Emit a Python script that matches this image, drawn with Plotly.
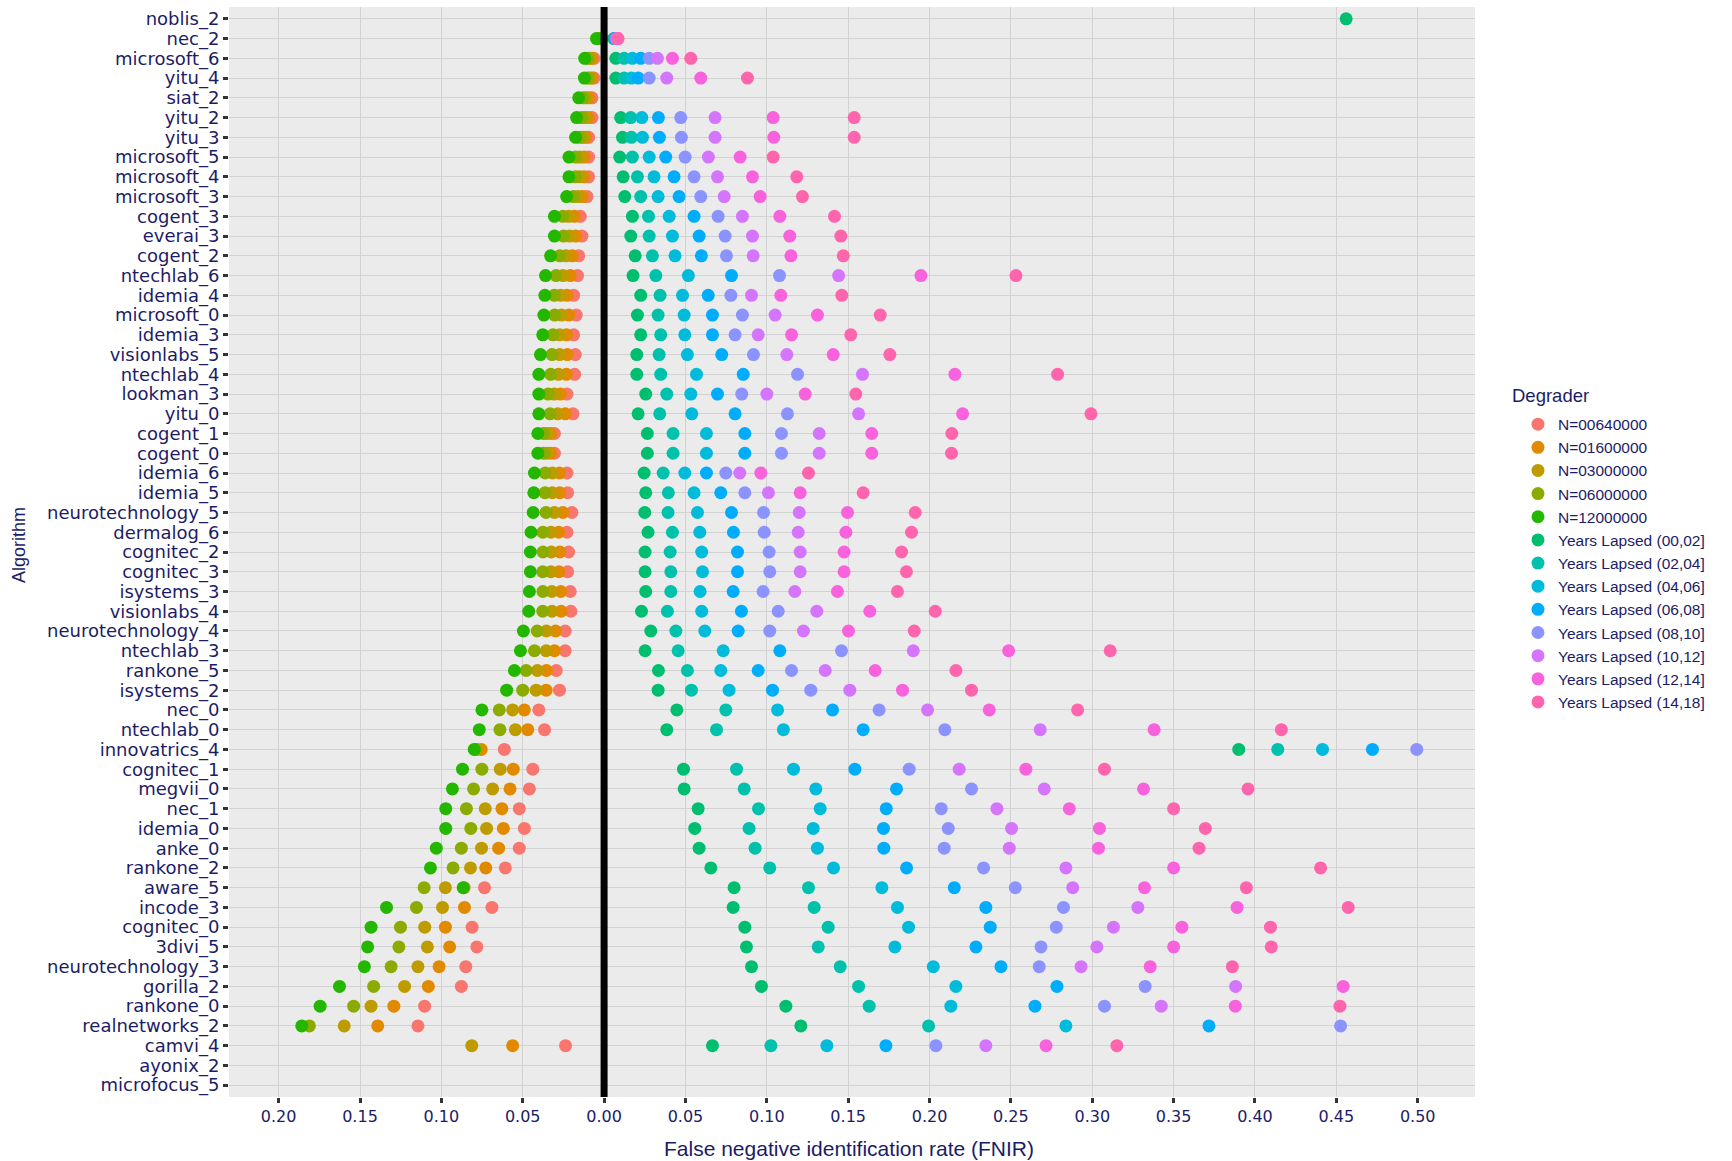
import plotly.graph_objects as go

algorithms = ["noblis_2", "nec_2", "microsoft_6", "yitu_4", "siat_2", "yitu_2", "yitu_3",
              "microsoft_5", "microsoft_4", "microsoft_3", "cogent_3", "everai_3", "cogent_2",
              "ntechlab_6", "idemia_4", "microsoft_0", "idemia_3", "visionlabs_5", "ntechlab_4",
              "lookman_3", "yitu_0", "cogent_1", "cogent_0", "idemia_6", "idemia_5",
              "neurotechnology_5", "dermalog_6", "cognitec_2", "cognitec_3", "isystems_3",
              "visionlabs_4", "neurotechnology_4", "ntechlab_3", "rankone_5", "isystems_2",
              "nec_0", "ntechlab_0", "innovatrics_4", "cognitec_1", "megvii_0", "nec_1",
              "idemia_0", "anke_0", "rankone_2", "aware_5", "incode_3", "cognitec_0", "3divi_5",
              "neurotechnology_3", "gorilla_2", "rankone_0", "realnetworks_2", "camvi_4",
              "ayonix_2", "microfocus_5"]

# FNIR by gallery size (plotted to the left of zero)
n_00640000 = [None, 0.0012, 0.0062, 0.0062, 0.0074, 0.0074, 0.0095, 0.0095, 0.0095, 0.0105,
              0.0146, 0.0136, 0.0156, 0.0163, 0.0187, 0.0171, 0.0187, 0.0177, 0.0181, 0.0228,
              0.0191, 0.0305, 0.0305, 0.0228, 0.0224, 0.0198, 0.0228, 0.0218, 0.0224, 0.0208,
              0.0204, 0.0239, 0.0239, 0.0294, 0.0274, 0.0401, 0.0366, 0.0613, 0.0438, 0.0459,
              0.0521, 0.0490, 0.0521, 0.0607, 0.0735, 0.0689, 0.0811, 0.0782, 0.0850, 0.0877,
              0.1103, 0.1144, 0.0237, None, None]
n_01600000 = [None, 0.0020, 0.0075, 0.0075, 0.0093, 0.0096, 0.0113, 0.0123, 0.0123, 0.0134,
              0.0183, 0.0175, 0.0196, 0.0208, 0.0228, 0.0217, 0.0231, 0.0226, 0.0232, 0.0268,
              0.0239, 0.0328, 0.0328, 0.0274, 0.0272, 0.0253, 0.0279, 0.0272, 0.0277, 0.0266,
              0.0264, 0.0298, 0.0305, 0.0354, 0.0356, 0.0490, 0.0469, 0.0755, 0.0558, 0.0578,
              0.0628, 0.0619, 0.0648, 0.0727, 0.0860, 0.0858, 0.0975, 0.0949, 0.1014, 0.1080,
              0.1292, 0.1391, 0.0562, None, None]
n_03000000 = [None, 0.0028, 0.0088, 0.0088, 0.0111, 0.0117, 0.0131, 0.0150, 0.0150, 0.0161,
              0.0218, 0.0212, 0.0234, 0.0252, 0.0267, 0.0261, 0.0273, 0.0273, 0.0280, 0.0306,
              0.0285, 0.0351, 0.0351, 0.0318, 0.0318, 0.0305, 0.0327, 0.0324, 0.0327, 0.0321,
              0.0320, 0.0355, 0.0356, 0.0410, 0.0418, 0.0562, 0.0545, 0.0785, 0.0638, 0.0685,
              0.0730, 0.0722, 0.0753, 0.0821, 0.0975, 0.0993, 0.1102, 0.1086, 0.1144, 0.1226,
              0.1432, 0.1597, 0.0813, None, None]
n_06000000 = [None, 0.0036, 0.0100, 0.0101, 0.0129, 0.0138, 0.0149, 0.0176, 0.0176, 0.0189,
              0.0253, 0.0249, 0.0272, 0.0295, 0.0306, 0.0304, 0.0314, 0.0320, 0.0328, 0.0344,
              0.0332, 0.0373, 0.0373, 0.0362, 0.0363, 0.0357, 0.0376, 0.0375, 0.0377, 0.0376,
              0.0377, 0.0411, 0.0428, 0.0479, 0.0500, 0.0644, 0.0640, 0.0790, 0.0751, 0.0802,
              0.0846, 0.0819, 0.0877, 0.0928, 0.1106, 0.1153, 0.1251, 0.1261, 0.1309, 0.1416,
              0.1539, 0.1811, None, None, None]
n_12000000 = [None, 0.0047, 0.0119, 0.0121, 0.0156, 0.0169, 0.0175, 0.0216, 0.0216, 0.0230,
              0.0305, 0.0305, 0.0329, 0.0360, 0.0364, 0.0370, 0.0377, 0.0391, 0.0401, 0.0401,
              0.0401, 0.0407, 0.0407, 0.0428, 0.0432, 0.0436, 0.0449, 0.0453, 0.0453, 0.0459,
              0.0463, 0.0496, 0.0514, 0.0551, 0.0599, 0.0751, 0.0767, 0.0798, 0.0870, 0.0932,
              0.0973, 0.0973, 0.1031, 0.1067, 0.0866, 0.1337, 0.1432, 0.1453, 0.1473, 0.1626,
              0.1745, 0.1858, None, None, None]

# FNIR by years lapsed (plotted to the right of zero)
yrs_00_02 = [0.4560, 0.0060, 0.0072, 0.0072, None, 0.0102, 0.0113, 0.0096, 0.0117, 0.0127,
             0.0174, 0.0164, 0.0191, 0.0178, 0.0225, 0.0205, 0.0225, 0.0201, 0.0201, 0.0256,
             0.0209, 0.0266, 0.0266, 0.0246, 0.0256, 0.0250, 0.0270, 0.0252, 0.0252, 0.0256,
             0.0230, 0.0287, 0.0252, 0.0334, 0.0332, 0.0447, 0.0385, 0.3900, 0.0488, 0.0492,
             0.0578, 0.0557, 0.0584, 0.0656, 0.0799, 0.0793, 0.0865, 0.0875, 0.0906, 0.0967,
             0.1117, 0.1209, 0.0666, None, None]
yrs_02_04 = [None, 0.0065, 0.0123, 0.0123, None, 0.0164, 0.0168, 0.0174, 0.0205, 0.0225,
             0.0273, 0.0277, 0.0297, 0.0318, 0.0344, 0.0332, 0.0348, 0.0338, 0.0348, 0.0385,
             0.0342, 0.0424, 0.0424, 0.0363, 0.0395, 0.0393, 0.0420, 0.0406, 0.0410, 0.0410,
             0.0389, 0.0441, 0.0455, 0.0512, 0.0537, 0.0748, 0.0691, 0.4140, 0.0814, 0.0861,
             0.0949, 0.0891, 0.0928, 0.1018, 0.1256, 0.1291, 0.1377, 0.1316, 0.1451, 0.1564,
             0.1629, 0.1994, 0.1025, None, None]
yrs_04_06 = [None, 0.0070, 0.0174, 0.0168, None, 0.0232, 0.0236, 0.0277, 0.0307, 0.0332,
             0.0400, 0.0420, 0.0436, 0.0518, 0.0482, 0.0492, 0.0496, 0.0512, 0.0568, 0.0533,
             0.0539, 0.0629, 0.0629, 0.0496, 0.0553, 0.0574, 0.0588, 0.0600, 0.0605, 0.0590,
             0.0600, 0.0619, 0.0732, 0.0717, 0.0768, 0.1066, 0.1102, 0.4415, 0.1164, 0.1301,
             0.1328, 0.1285, 0.1311, 0.1410, 0.1707, 0.1803, 0.1871, 0.1787, 0.2023, 0.2162,
             0.2131, 0.2838, 0.1369, None, None]
yrs_06_08 = [None, 0.0072, 0.0225, 0.0210, None, 0.0334, 0.0340, 0.0379, 0.0430, 0.0461,
             0.0553, 0.0584, 0.0598, 0.0783, 0.0640, 0.0666, 0.0666, 0.0723, 0.0855, 0.0697,
             0.0805, 0.0865, 0.0865, 0.0629, 0.0717, 0.0783, 0.0795, 0.0820, 0.0820, 0.0793,
             0.0844, 0.0824, 0.1080, 0.0947, 0.1035, 0.1404, 0.1592, 0.4722, 0.1541, 0.1797,
             0.1734, 0.1717, 0.1719, 0.1859, 0.2152, 0.2346, 0.2373, 0.2285, 0.2439, 0.2783,
             0.2648, 0.3717, 0.1732, None, None]
yrs_08_10 = [None, 0.0075, 0.0277, 0.0277, None, 0.0471, 0.0475, 0.0498, 0.0553, 0.0594,
             0.0701, 0.0744, 0.0752, 0.1078, 0.0779, 0.0850, 0.0805, 0.0918, 0.1189, 0.0846,
             0.1127, 0.1090, 0.1090, 0.0748, 0.0865, 0.0980, 0.0984, 0.1014, 0.1018, 0.0977,
             0.1070, 0.1018, 0.1459, 0.1152, 0.1270, 0.1690, 0.2094, 0.4994, 0.1875, 0.2258,
             0.2072, 0.2115, 0.2090, 0.2332, 0.2527, 0.2823, 0.2779, 0.2685, 0.2674, 0.3325,
             0.3075, 0.4526, 0.2039, None, None]
yrs_10_12 = [None, 0.0080, 0.0328, 0.0385, None, 0.0682, 0.0682, 0.0641, 0.0697, 0.0738,
             0.0850, 0.0912, 0.0916, 0.1441, 0.0906, 0.1051, 0.0947, 0.1123, 0.1588, 0.1000,
             0.1564, 0.1322, 0.1322, 0.0834, 0.1010, 0.1199, 0.1193, 0.1205, 0.1205, 0.1172,
             0.1307, 0.1225, 0.1900, 0.1359, 0.1510, 0.1988, 0.2680, None, 0.2182, 0.2705,
             0.2414, 0.2504, 0.2490, 0.2838, 0.2880, 0.3280, 0.3130, 0.3028, 0.2931, 0.3881,
             0.3424, None, 0.2346, None, None]
yrs_12_14 = [None, 0.0082, 0.0420, 0.0594, None, 0.1039, 0.1043, 0.0836, 0.0912, 0.0959,
             0.1080, 0.1141, 0.1148, 0.1947, 0.1086, 0.1311, 0.1152, 0.1408, 0.2156, 0.1236,
             0.2203, 0.1645, 0.1645, 0.0963, 0.1205, 0.1496, 0.1486, 0.1475, 0.1475, 0.1434,
             0.1633, 0.1502, 0.2486, 0.1666, 0.1834, 0.2367, 0.3380, None, 0.2592, 0.3315,
             0.2859, 0.3044, 0.3038, 0.3500, 0.3321, 0.3890, 0.3551, 0.3500, 0.3356, 0.4542,
             0.3879, None, 0.2716, None, None]
yrs_14_18 = [None, 0.0086, 0.0533, 0.0881, None, 0.1537, 0.1537, 0.1039, 0.1184, 0.1219,
             0.1416, 0.1455, 0.1470, 0.2531, 0.1461, 0.1697, 0.1516, 0.1756, 0.2787, 0.1547,
             0.2992, 0.2137, 0.2135, 0.1256, 0.1592, 0.1912, 0.1889, 0.1828, 0.1858, 0.1803,
             0.2035, 0.1906, 0.3110, 0.2162, 0.2258, 0.2910, 0.4162, None, 0.3075, 0.3957,
             0.3500, 0.3695, 0.3656, 0.4403, 0.3947, 0.4573, 0.4095, 0.4100, 0.3861, None,
             0.4522, None, 0.3151, None, None]

series = [
    ("N=00640000", n_00640000, -1, "#F8766D"),
    ("N=01600000", n_01600000, -1, "#E18A00"),
    ("N=03000000", n_03000000, -1, "#BE9C00"),
    ("N=06000000", n_06000000, -1, "#8CAB00"),
    ("N=12000000", n_12000000, -1, "#24B700"),
    ("Years Lapsed (00,02]", yrs_00_02, 1, "#00BE70"),
    ("Years Lapsed (02,04]", yrs_02_04, 1, "#00C1AB"),
    ("Years Lapsed (04,06]", yrs_04_06, 1, "#00BBDA"),
    ("Years Lapsed (06,08]", yrs_06_08, 1, "#00ACFC"),
    ("Years Lapsed (08,10]", yrs_08_10, 1, "#8B93FF"),
    ("Years Lapsed (10,12]", yrs_10_12, 1, "#D575FE"),
    ("Years Lapsed (12,14]", yrs_12_14, 1, "#F962DD"),
    ("Years Lapsed (14,18]", yrs_14_18, 1, "#FF65AC"),
]

x_ticks = [-0.20, -0.15, -0.10, -0.05, 0.0, 0.05, 0.10, 0.15, 0.20, 0.25, 0.30, 0.35, 0.40, 0.45, 0.50]
x_ticktext = ["%.2f" % abs(v) for v in x_ticks]

TXT = "#1C1C66"
SANS = "Liberation Sans, Arial, sans-serif"
fig = go.Figure()
for name, vals, sign, color in series:
    xs, ys = [], []
    for i, v in enumerate(vals):
        if v is not None:
            xs.append(sign * v)
            ys.append(i)
    fig.add_trace(go.Scatter(
        x=xs, y=ys, mode="markers", name=name,
        marker=dict(size=13, color=color, line=dict(width=0)),
    ))

fig.add_shape(type="line", xref="x", yref="paper", x0=0, x1=0, y0=0, y1=1,
              line=dict(color="black", width=7), layer="above")

fig.update_layout(
    width=1732, height=1161,
    margin=dict(l=229, r=257, t=7, b=64, autoexpand=False),
    paper_bgcolor="white", plot_bgcolor="#EBEBEB",
    font=dict(family=SANS, color=TXT),
    showlegend=True,
    legend=dict(
        x=1.0345, xanchor="left", y=0.6325, yanchor="top",
        bgcolor="rgba(0,0,0,0)", borderwidth=0,
        font=dict(size=15.5, color=TXT, family=SANS),
        tracegroupgap=0, itemsizing="trace",
    ),
    xaxis=dict(
        range=[-0.2305, 0.5352], tickvals=x_ticks, ticktext=x_ticktext,
        showgrid=True, gridcolor="#D2D2D2", gridwidth=1.2, zeroline=False,
        ticks="outside", ticklen=5, tickwidth=2.5, tickcolor="#333333",
        tickfont=dict(family="DejaVu Sans", size=16, color=TXT),
        showline=False, fixedrange=True,
    ),
    yaxis=dict(
        range=[54.6, -0.6], tickvals=list(range(len(algorithms))), ticktext=algorithms,
        showgrid=True, gridcolor="#D2D2D2", gridwidth=1.2, zeroline=False,
        ticks="outside", ticklen=5, tickwidth=2.5, tickcolor="#333333",
        tickfont=dict(family="DejaVu Sans", size=18, color=TXT),
        showline=False, fixedrange=True,
    ),
    annotations=[
        dict(text="False negative identification rate (FNIR)", xref="paper", yref="paper",
             x=0.4976, y=-0.0477, xanchor="center", yanchor="middle", showarrow=False,
             font=dict(size=21, color=TXT, family=SANS)),
        dict(text="Algorithm", xref="paper", yref="paper", x=-0.1685, y=0.5064,
             xanchor="center", yanchor="middle", textangle=-90, showarrow=False,
             font=dict(size=18, color=TXT, family=SANS)),
        dict(text="Degrader", xref="paper", yref="paper", x=1.0281, y=0.6436,
             xanchor="left", yanchor="middle", showarrow=False,
             font=dict(size=18.5, color=TXT, family=SANS)),
    ],
)

fig.write_html("out.html")
